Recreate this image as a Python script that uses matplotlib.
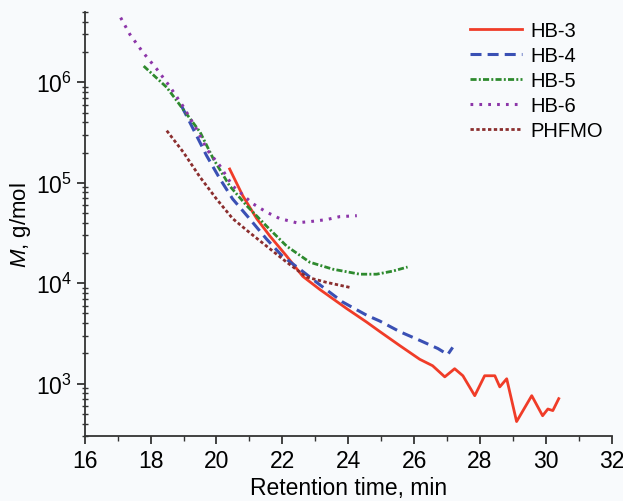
import matplotlib.pyplot as plt
from matplotlib.ticker import MultipleLocator, LogLocator

# values (retention time in min, M in g/mol)
hb3_t = [20.40, 20.8, 21.22, 21.62, 22.13, 22.62, 23.13, 23.95, 24.56, 24.96, 25.56,
         26.17, 26.56, 26.93, 27.23, 27.48, 27.84, 28.14, 28.45, 28.6, 28.81, 29.11,
         29.57, 29.9, 30.06, 30.21, 30.39]
hb3_m = [1.37e5, 7.4e4, 4.4e4, 2.95e4, 1.86e4, 1.17e4, 8.7e3, 5.6e3, 4.1e3, 3.3e3, 2.4e3,
         1.75e3, 1.51e3, 1.17e3, 1.41e3, 1.2e3, 760, 1.2e3, 1.2e3, 930, 1.12e3, 420,
         760, 480, 560, 540, 710]

hb4_t = [18.94, 19.19, 19.7, 20.1, 20.49, 21.0, 21.52, 22.0, 22.53, 23.04, 23.83,
         24.56, 24.96, 25.56, 26.17, 26.72, 27.02, 27.17]
hb4_m = [5.8e5, 4.0e5, 1.86e5, 1.1e5, 6.9e4, 4.4e4, 2.75e4, 1.86e4, 1.38e4, 1.02e4, 6.5e3,
         4.8e3, 4.2e3, 3.3e3, 2.7e3, 2.24e3, 1.95e3, 2.3e3]

hb5_t = [17.79, 18.49, 19.04, 19.5, 19.9, 20.4, 20.92, 21.52, 22.13, 22.83, 23.53,
         24.35, 24.86, 25.35, 25.8]
hb5_m = [1.45e6, 8.9e5, 5.1e5, 3.2e5, 1.74e5, 9.3e4, 5.9e4, 3.7e4, 2.34e4, 1.62e4, 1.38e4,
         1.23e4, 1.23e4, 1.32e4, 1.45e4]

hb6_t = [17.09, 17.37, 17.76, 18.19, 18.58, 18.98, 19.4, 19.73, 20.1, 20.49, 20.7,
         21.1, 21.52, 21.92, 22.43, 22.83, 23.34, 23.74, 24.26]
hb6_m = [4.4e6, 3.0e6, 2.0e6, 1.35e6, 9.1e5, 5.8e5, 3.4e5, 2.1e5, 1.48e5, 9.3e4, 8.1e4,
         6.2e4, 5.1e4, 4.4e4, 4.0e4, 4.1e4, 4.3e4, 4.6e4, 4.7e4]

phf_t = [18.49, 19.0, 19.49, 20.0, 20.49, 21.0, 21.52, 22.13, 22.74, 23.34, 24.04]
phf_m = [3.3e5, 2.0e5, 1.15e5, 6.9e4, 4.4e4, 3.2e4, 2.34e4, 1.62e4, 1.15e4, 1.02e4, 9.1e3]

plt.rcParams['font.family'] = ['Liberation Sans', 'DejaVu Sans']
plt.rcParams['mathtext.fontset'] = 'custom'
plt.rcParams['mathtext.rm'] = 'Liberation Sans'
plt.rcParams['mathtext.it'] = 'Liberation Sans:italic'

bg = '#f8fafc'
fig = plt.figure(figsize=(6.23, 5.02), dpi=100, facecolor=bg)
ax = fig.add_axes([0.136, 0.129, 0.846, 0.845], facecolor=bg)

ax.plot(hb3_t, hb3_m, color='#f03c28', lw=2.0, label='HB-3')
ax.plot(hb4_t, hb4_m, color='#3a50b4', lw=2.2, ls=(0, (3.6, 2.0)), label='HB-4')
ax.plot(hb5_t, hb5_m, color='#2e8a2e', lw=2.0, ls=(0, (2.2, 0.8, 0.7, 0.8)), label='HB-5')
ax.plot(hb6_t, hb6_m, color='#8c35a8', lw=2.2, ls=(0, (0.9, 2.0)), label='HB-6')
ax.plot(phf_t, phf_m, color='#8b2e2e', lw=2.0, ls=(0, (1.2, 0.9)), label='PHFMO')

ax.set_yscale('log')
ax.set_xlim(16, 32)
ax.set_ylim(300, 5e6)
ax.xaxis.set_major_locator(MultipleLocator(2))
ax.xaxis.set_minor_locator(MultipleLocator(1))
ax.yaxis.set_major_locator(LogLocator(base=10, numticks=10))

for s in ['top', 'right']:
    ax.spines[s].set_visible(False)
for s in ['left', 'bottom']:
    ax.spines[s].set_linewidth(1.3)
    ax.spines[s].set_color('#333333')

ax.tick_params(which='major', direction='out', length=6, width=1.3, labelsize=16.5,
               color='#333333', pad=3)
ax.tick_params(which='minor', direction='out', length=3.5, width=1.0, color='#333333')
ax.tick_params(axis='y', which='minor', direction='inout', length=5)

ax.set_xlabel('Retention time, min', fontsize=16.5, labelpad=3)
ax.set_ylabel('$\\mathit{M}$, g/mol', fontsize=16, labelpad=2)

ax.legend(loc='upper right', frameon=False, fontsize=14.5, handlelength=2.6,
          handletextpad=0.4, labelspacing=0.3, borderaxespad=0.05,
          bbox_to_anchor=(1.0, 1.0))

fig.savefig('out.png', dpi=100, facecolor=bg)
